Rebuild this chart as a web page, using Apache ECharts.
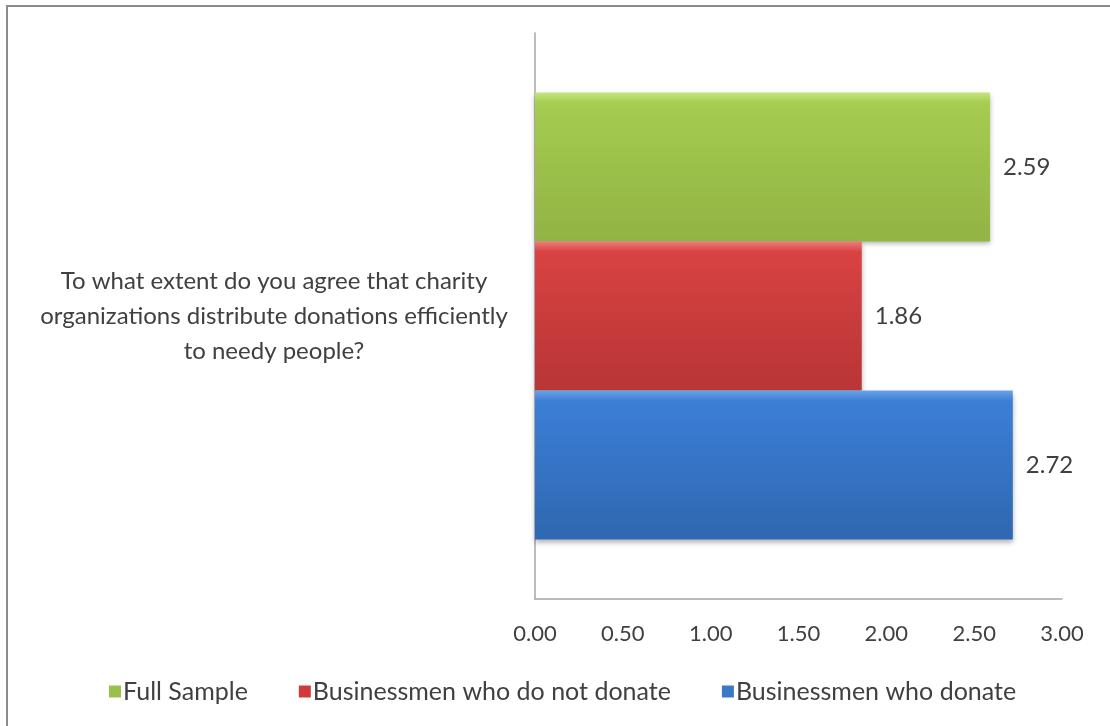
<!DOCTYPE html>
<html>
<head>
<meta charset="utf-8">
<script src="https://cdn.jsdelivr.net/npm/echarts@6/dist/echarts.min.js"></script>
<style>
  html, body { margin: 0; padding: 0; background: #fff; }
  #frame { position: absolute; left: 6px; top: 5px; width: 1110px; height: 726px;
           border-left: 2px solid #8c8c8c; border-top: 2px solid #8c8c8c; box-sizing: border-box; }
  #chart { position: absolute; left: 0; top: 0; width: 1110px; height: 726px; }
</style>
</head>
<body>
<div id="frame"></div>
<div id="chart"></div>
<script>
const categories = ['To what extent do you agree that charity\norganizations distribute donations efficiently\nto needy people?'];
const seriesNames = ['Full Sample', 'Businessmen who do not donate', 'Businessmen who donate'];
const fullSampleValues = [2.59];
const notDonateValues = [1.86];
const donateValues = [2.72];
const legendOrder = ['Full Sample', 'Businessmen who do not donate', 'Businessmen who donate'];
const xTicks = { min: 0, max: 3, interval: 0.5 };

function grad(light, mid, dark) {
  return new echarts.graphic.LinearGradient(0, 0, 0, 1, [
    { offset: 0, color: light },
    { offset: 0.07, color: mid },
    { offset: 0.92, color: dark },
    { offset: 1, color: dark }
  ]);
}

const colors = {
  'Businessmen who donate': grad('#6aa2e6', '#3b7fd6', '#3069b3'),
  'Businessmen who do not donate': grad('#f07a7a', '#d94242', '#bb3636'),
  'Full Sample': grad('#c6e67e', '#a5cd50', '#93b545')
};
const legendColors = {
  'Businessmen who donate': '#3a78c8',
  'Businessmen who do not donate': '#d03a3a',
  'Full Sample': '#98c04a'
};

const dataBy = {
  'Businessmen who donate': donateValues,
  'Businessmen who do not donate': notDonateValues,
  'Full Sample': fullSampleValues
};

const chart = echarts.init(document.getElementById('chart'), null, { renderer: 'canvas' });
chart.setOption({
  animation: false,
  backgroundColor: 'transparent',
  textStyle: { fontFamily: 'Lato', color: '#404040' },
  grid: { left: 535, right: 48, top: 33, bottom: 127, containLabel: false },
  legend: {
    bottom: 17,
    left: 104,
    itemWidth: 12,
    itemHeight: 12,
    itemGap: 51,
    icon: 'rect',
    data: legendOrder.map(n => ({ name: n, itemStyle: { color: legendColors[n] } })),
    textStyle: { fontFamily: 'Lato', fontSize: 25, color: '#404040', padding: [0, 0, 0, -3] }
  },
  xAxis: {
    type: 'value',
    min: xTicks.min, max: xTicks.max, interval: xTicks.interval,
    axisLine: { show: true, lineStyle: { color: '#a6a6a6', width: 1.5 } },
    axisTick: { show: false },
    splitLine: { show: false },
    axisLabel: { fontFamily: 'Lato', fontSize: 22, color: '#404040', margin: 24,
                 formatter: v => v.toFixed(2) }
  },
  yAxis: {
    type: 'category',
    data: categories,
    axisLine: { show: true, lineStyle: { color: '#a6a6a6', width: 1.5 } },
    axisTick: { show: false },
    axisLabel: { fontFamily: 'Lato', fontSize: 24, color: '#404040', align: 'center',
                 margin: 261, lineHeight: 35 }
  },
  series: seriesNames.map(n => ({
    name: n,
    type: 'bar',
    data: dataBy[n],
    barGap: '0%',
    barCategoryGap: '21%',
    itemStyle: { color: colors[n], shadowColor: 'rgba(0,0,0,0.3)', shadowBlur: 5, shadowOffsetY: 3 },
    label: { show: true, position: 'right', distance: 13, fontFamily: 'Lato', fontSize: 24,
             color: '#404040', formatter: p => p.value.toFixed(2) }
  }))
});
</script>
</body>
</html>
